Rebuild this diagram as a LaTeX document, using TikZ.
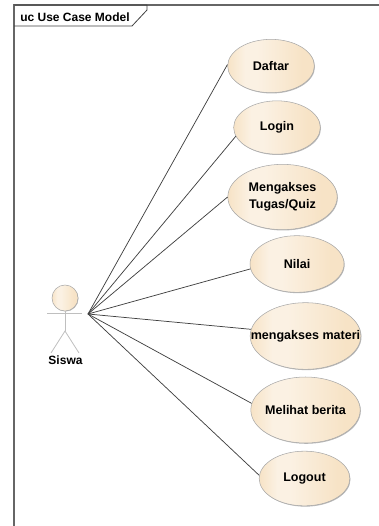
\documentclass[tikz,border=0pt]{standalone}
\usepackage{fontspec}
\setmainfont{Liberation Sans}
\usetikzlibrary{arrows.meta, positioning, shapes.geometric, calc, shadows}

\definecolor{case_edge}{HTML}{A9A9A9}
\definecolor{case_dark}{HTML}{F7E3C6}
\definecolor{case_light}{HTML}{FBF1E3}
\definecolor{frame_line}{HTML}{666666}
\definecolor{assoc_line}{HTML}{404040}

\pgfdeclarehorizontalshading{case_shade}{100bp}{color(0bp)=(case_dark); color(25bp)=(case_dark); color(35bp)=(case_light); color(42bp)=(case_light); color(68bp)=(case_dark); color(100bp)=(case_dark)}

\begin{document}
\begin{tikzpicture}[x=0.75pt, y=-0.75pt,
        usecase_node/.style 2 args={draw=case_edge, ellipse, shading=case_shade, inner sep=0pt, align=center,
            minimum width=#1, minimum height=#2, font=\fontsize{9.4pt}{13pt}\selectfont\bfseries,
            drop shadow={shadow xshift=0.5pt, shadow yshift=-0.6pt, fill=black!40, opacity=0.7}},
        actor_line/.style={draw=black!25, line width=0.6pt},
        assoc/.style={draw=assoc_line, line width=0.55pt}]

        \useasboundingbox (0,0) rectangle (379,526);

        % Diagram frame and name tab
        \coordinate (frame_bl) at (14,526);
        \coordinate (frame_tl) at (14,5);
        \coordinate (frame_tr) at (379,5);
        \coordinate (tab_top) at (147,5);
        \coordinate (tab_mid) at (147,10);
        \coordinate (tab_low) at (132,26);
        \coordinate (tab_left) at (14,26);
        \draw[frame_line, line width=0.9pt] (frame_bl) -- (frame_tl) -- (frame_tr);
        \draw[black!75, line width=0.6pt] (frame_tl) -- (tab_top) -- (tab_mid) -- (tab_low) -- (tab_left);
        \node[font=\fontsize{9pt}{10pt}\selectfont\bfseries, inner sep=0pt, anchor=west] (frame_label) at (20,17.5) {uc Use Case Model};

        % Use cases
        \node[usecase_node={65pt}{40pt}] (daftar) at (271,66) {Daftar};
        \node[usecase_node={65pt}{40pt}] (login) at (277,127.5) {Login};
        \node[usecase_node={82pt}{49pt}] (tugas) at (282.5,197) {Mengakses\\Tugas/Quiz};
        \node[usecase_node={70.5pt}{42.5pt}] (nilai) at (297,264) {Nilai};
        \node[usecase_node={83pt}{50pt}] (materi) at (305.5,336) {\makebox[0pt]{mengakses materi}};
        \node[usecase_node={82pt}{49.5pt}] (berita) at (305.5,410) {\makebox[0pt]{Melihat berita}};
        \node[usecase_node={68pt}{41pt}] (logout) at (304.5,478.5) {Logout};

        % Actor
        \node[draw=case_edge, circle, shading=case_shade, minimum size=19.5pt, inner sep=0pt,
            drop shadow={shadow xshift=0.4pt, shadow yshift=-0.4pt, fill=black!40, opacity=0.7}] (siswa_head) at (65,298) {};
        \coordinate (arm_left) at (47,313);
        \coordinate (arm_right) at (82,313);
        \coordinate (hip) at (65,331);
        \coordinate (foot_left) at (51,353);
        \coordinate (foot_right) at (79,353);
        \draw[actor_line] (arm_left) -- (arm_right);
        \draw[actor_line] (siswa_head.south) -- (hip);
        \draw[actor_line] (foot_left) -- (hip) -- (foot_right);
        \node[font=\fontsize{9pt}{10pt}\selectfont\bfseries, inner sep=0pt] (siswa_label) at (65.5,360) {Siswa};
        \coordinate (siswa) at (88,314);

        % Associations
        \draw[assoc] (siswa) -- (daftar.178);
        \draw[assoc] (siswa) -- (login.192);
        \draw[assoc] (siswa) -- (tugas.west);
        \draw[assoc] (siswa) -- (nilai.186);
        \draw[assoc] (siswa) -- (materi.173);
        \draw[assoc] (siswa) -- (berita.173);
        \draw[assoc] (siswa) -- (logout.176);
\end{tikzpicture}
\end{document}
